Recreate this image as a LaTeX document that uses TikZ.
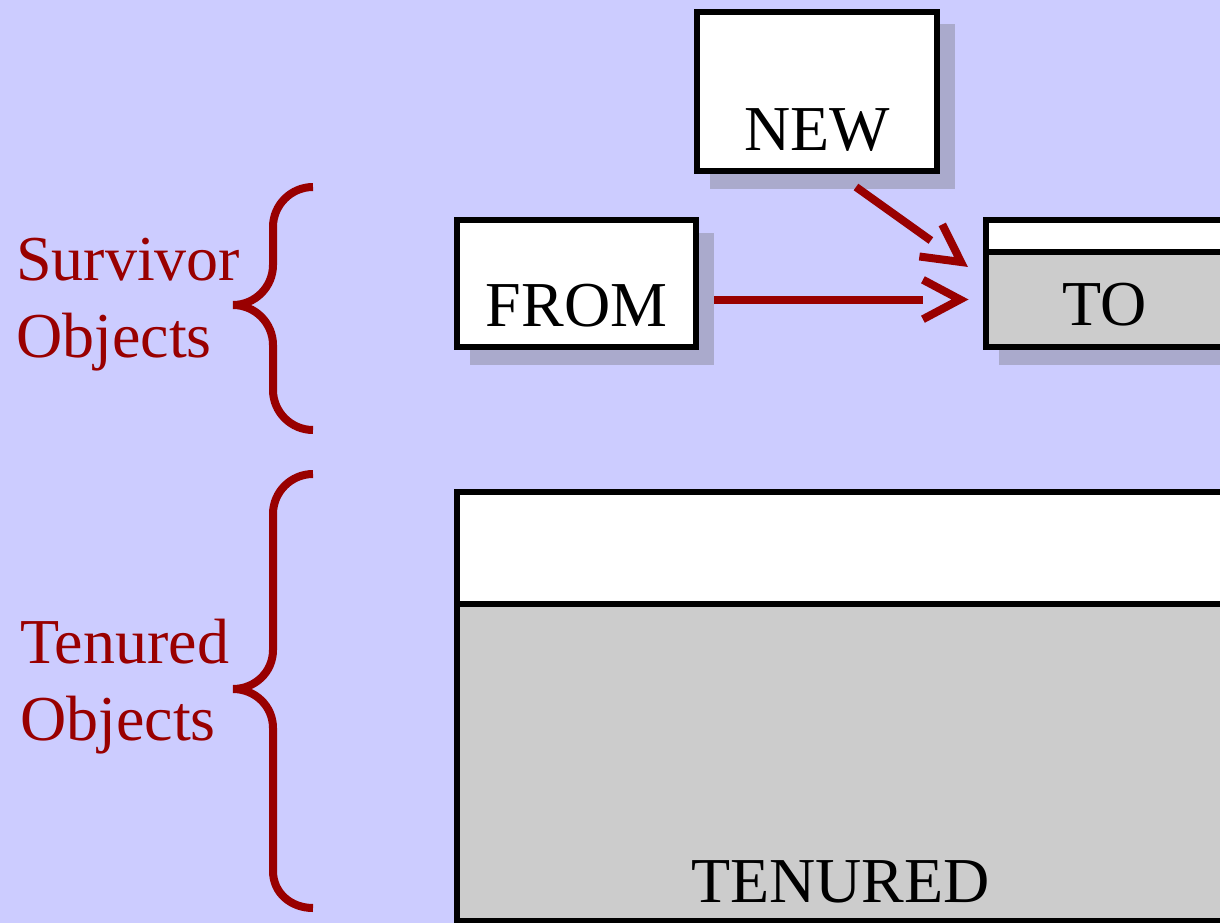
\documentclass[tikz,border=0pt]{standalone}
\usepackage{fontspec}
\setmainfont{Liberation Serif}
\usetikzlibrary{calc,backgrounds}
\definecolor{bgc}{HTML}{CCCCFF}
\definecolor{shadowc}{HTML}{AAAACC}
\definecolor{boxgray}{HTML}{CCCCCC}
\definecolor{darkred}{HTML}{990000}
\begin{document}
\begin{tikzpicture}[x=1pt,y=-1pt,
  membox/.style={draw=black, line width=5.5pt, rectangle, inner sep=0pt, outer sep=0pt},
  boxtext/.style={font=\fontsize{64}{77}\selectfont, inner sep=0pt, anchor=base},
  sidelabel/.style={font=\fontsize{64}{77}\selectfont, text=darkred, inner sep=0pt, anchor=base west, align=left},
  brace/.style={draw=darkred, line width=8pt, line join=bevel},
  redline/.style={draw=darkred, line width=8pt},
  chevron/.style={draw=darkred, line width=8pt, line join=miter},
  shade/.style={fill=shadowc}]
\useasboundingbox (0,0) rectangle (1220,923);
\clip (0,0) rectangle (1220,923);

% boxes
\node[membox, fill=white, minimum width=240pt, minimum height=159pt] (new) at (817,91.5) {};
\node[membox, fill=white, minimum width=239pt, minimum height=127pt] (from) at (576.5,283.5) {};
\node[membox, fill=white, minimum width=238pt, minimum height=32pt, anchor=north west] (tohead) at (986,220) {};
\node[membox, fill=boxgray, minimum width=238pt, minimum height=95pt, anchor=north west] (tobody) at (986,252) {};
\node[membox, fill=white, minimum width=767pt, minimum height=112pt, anchor=north west] (tenhead) at (457,492) {};
\node[membox, fill=boxgray, minimum width=767pt, minimum height=317pt, anchor=north west] (tenbody) at (457,604) {};

% box texts
\node[boxtext] (newlbl) at ($(new.south)+(0,-21)$) {NEW};
\node[boxtext] (fromlbl) at ($(from.south)+(0,-21)$) {FROM};
\node[boxtext] (tolbl) at ($(tobody.south)+(0,-22)$) {TO};
\node[boxtext] (tenlbl) at ($(tenbody.south)+(0,-19)$) {TENURED};

% side labels (base anchor = last line's baseline)
\node[sidelabel] (survlbl) at (16,357) {Survivor\\Objects};
\node[sidelabel] (tenurelbl) at (20,740) {Tenured\\Objects};

% braces
\draw[brace] (313,187) .. controls (291,187) and (273,205) .. (273,227) -- (273,265)
  .. controls (273,287) and (255,305) .. (233,305)
  .. controls (255,305) and (273,323) .. (273,345) -- (273,390)
  .. controls (273,412) and (291,430) .. (313,430);
\draw[brace] (313,474) .. controls (291,474) and (273,492) .. (273,514) -- (273,650)
  .. controls (273,672) and (255,689) .. (233,689)
  .. controls (255,689) and (273,706) .. (273,728) -- (273,871)
  .. controls (273,893) and (291,908) .. (313,908);

% arrows
\coordinate (a1s) at ($(from.east)+(18,16)$);
\coordinate (a1v) at ($(tobody.west)+(-26,0)$);
\draw[redline] (a1s) -- ($(a1v)!37pt!(a1s)$);
\draw[chevron] ($(a1v)!42pt!28:(a1s)$) -- (a1v) -- ($(a1v)!42pt!-28:(a1s)$);

\coordinate (a2s) at ($(new.south)+(39,16)$);
\coordinate (a2v) at ($(tohead.south west)+(-25,10)$);
\draw[redline] (a2s) -- ($(a2v)!37pt!(a2s)$);
\draw[chevron] ($(a2v)!42pt!28:(a2s)$) -- (a2v) -- ($(a2v)!42pt!-28:(a2s)$);

% background and shadows
\begin{scope}[on background layer]
\fill[bgc] (0,0) rectangle (1220,923);
\fill[shade] ($(new.north west)+(12.5,12.5)$) rectangle ($(new.south east)+(17.5,17.5)$);
\fill[shade] ($(from.north west)+(12.5,12.5)$) rectangle ($(from.south east)+(17.5,17.5)$);
\fill[shade] ($(tohead.north west)+(12.5,12.5)$) rectangle ($(tobody.south east)+(17.5,17.5)$);
\fill[shade] ($(tenhead.north west)+(12.5,12.5)$) rectangle ($(tenbody.south east)+(17.5,17.5)$);
\end{scope}
\end{tikzpicture}
\end{document}
